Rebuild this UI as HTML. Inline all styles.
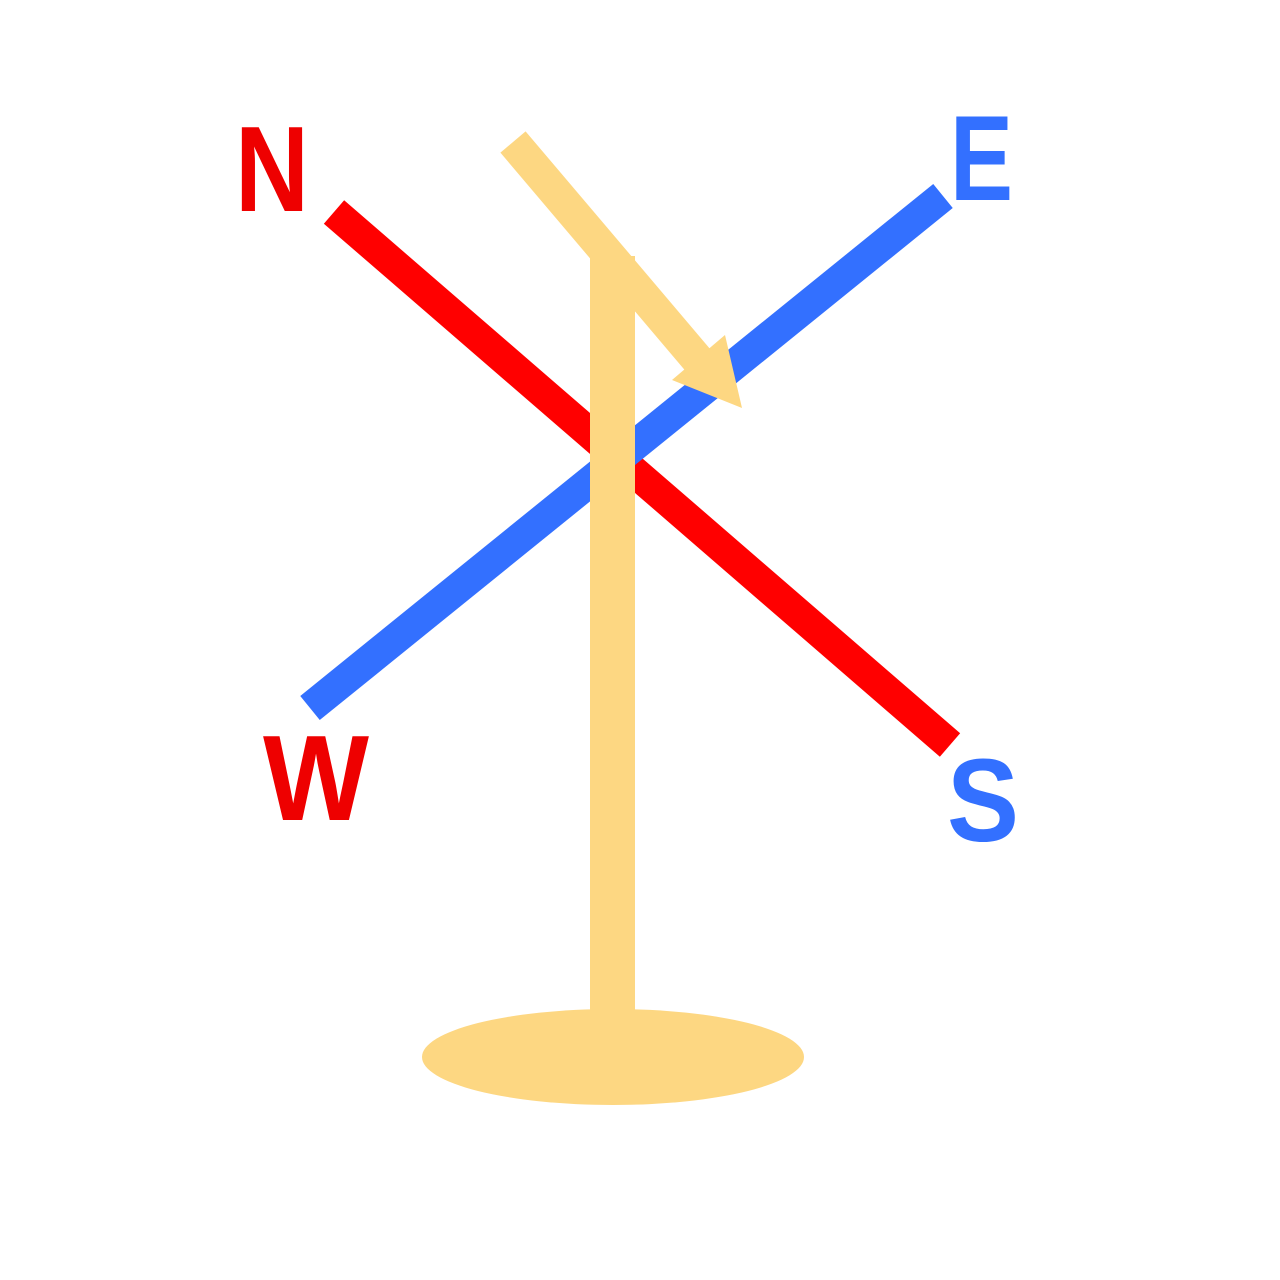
<!DOCTYPE html>
<html><head><meta charset="utf-8"><style>
html,body{margin:0;padding:0;background:#fff;}
svg{display:block;}
text{font-family:"Liberation Sans",sans-serif;font-weight:bold;}
</style></head><body>
<svg width="1280" height="1280" viewBox="0 0 1280 1280" xmlns="http://www.w3.org/2000/svg">
<rect width="1280" height="1280" fill="#fff"/>
<line x1="334" y1="212" x2="950" y2="745" stroke="#ff0000" stroke-width="31"/>
<line x1="310" y1="708" x2="943" y2="196" stroke="#3370ff" stroke-width="31"/>
<line x1="513" y1="142" x2="708" y2="372" stroke="#fdd782" stroke-width="33"/>
<polygon points="742,408 672,380 725,335" fill="#fdd782"/>
<rect x="590" y="256" width="45" height="780" fill="#fdd782"/>
<ellipse cx="613" cy="1057" rx="191" ry="48" fill="#fdd782"/>
<text x="235" y="211" font-size="122" fill="#ee0000" textLength="74" lengthAdjust="spacingAndGlyphs">N</text>
<text x="950" y="200" font-size="122" fill="#3370ff" textLength="63" lengthAdjust="spacingAndGlyphs">E</text>
<text x="263" y="820" font-size="122" fill="#ee0000" textLength="106" lengthAdjust="spacingAndGlyphs">W</text>
<text x="947" y="841" font-size="118" fill="#3370ff" textLength="72" lengthAdjust="spacingAndGlyphs">S</text>
</svg>
</body></html>
